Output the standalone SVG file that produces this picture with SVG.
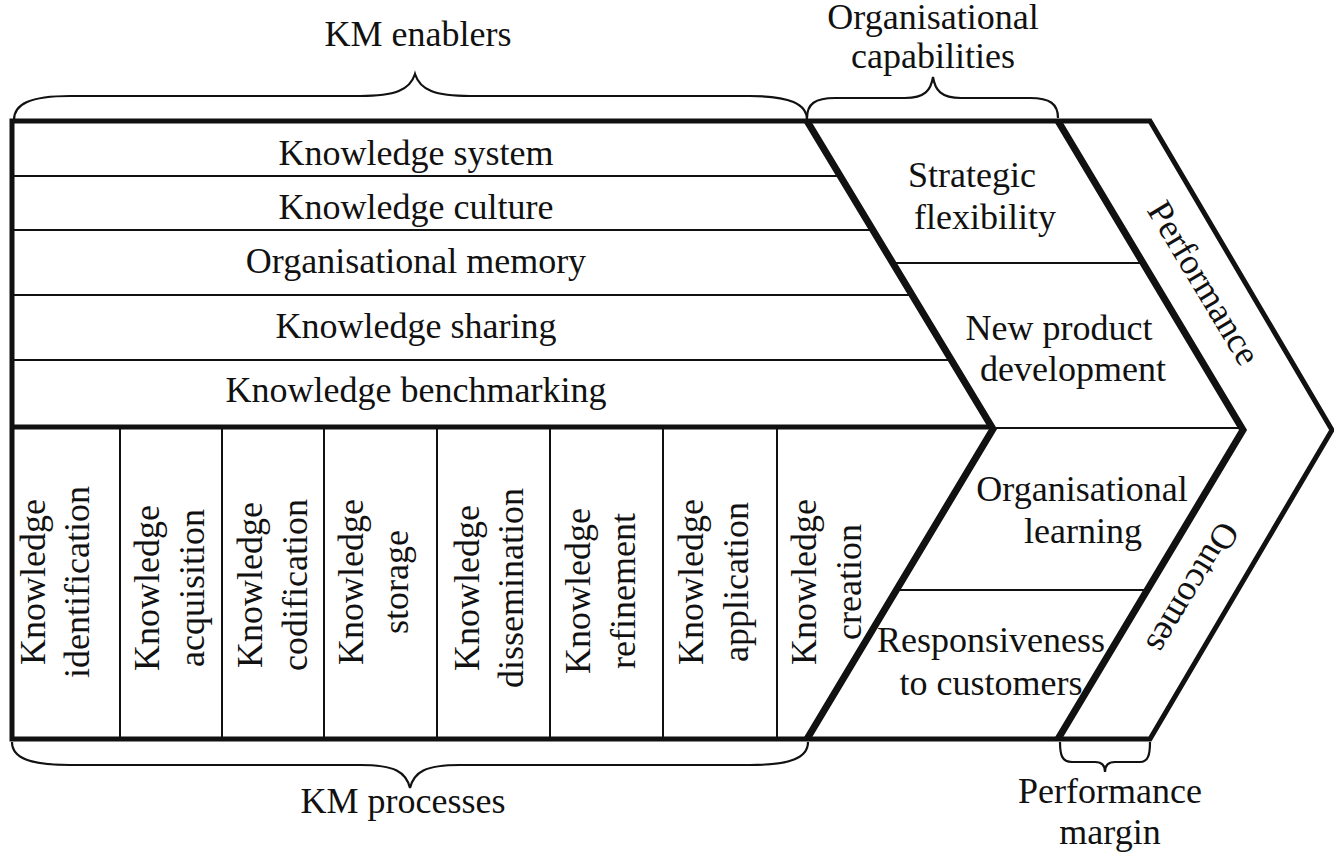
<svg xmlns="http://www.w3.org/2000/svg" width="1334" height="854" viewBox="0 0 1334 854">
<rect width="1334" height="854" fill="#fff"/>

<g id="frame" fill="none" stroke="#111">
  <path fill="none" stroke="#111" stroke-width="5" d="M12,121 H1150 L1332,430 L1150,739 H12 Z"/>
  <path fill="none" stroke="#111" stroke-width="5" d="M12,427 H993"/>
  <polyline fill="none" stroke="#111" stroke-width="7" points="807,121 993,429 807,739"/>
  <polyline fill="none" stroke="#111" stroke-width="7" points="1058,121 1243,430 1058,739"/>
</g>

<g id="enablers">
  <line stroke="#111" stroke-width="2" x1="12" y1="176" x2="840" y2="176"/>
  <line stroke="#111" stroke-width="2" x1="12" y1="230" x2="873" y2="230"/>
  <line stroke="#111" stroke-width="2" x1="12" y1="295" x2="912" y2="295"/>
  <line stroke="#111" stroke-width="2" x1="12" y1="360" x2="951" y2="360"/>
  <g id="knowledge-system"><text font-family="Liberation Serif" font-size="36" fill="#111" text-anchor="middle" x="416" y="165">Knowledge system</text></g>
  <g id="knowledge-culture"><text font-family="Liberation Serif" font-size="36" fill="#111" text-anchor="middle" x="416" y="219">Knowledge culture</text></g>
  <g id="organisational-memory"><text font-family="Liberation Serif" font-size="36" fill="#111" text-anchor="middle" x="416" y="273">Organisational memory</text></g>
  <g id="knowledge-sharing"><text font-family="Liberation Serif" font-size="36" fill="#111" text-anchor="middle" x="416" y="338">Knowledge sharing</text></g>
  <g id="knowledge-benchmarking"><text font-family="Liberation Serif" font-size="36" fill="#111" text-anchor="middle" x="416" y="402">Knowledge benchmarking</text></g>
</g>

<g id="processes">
  <line stroke="#111" stroke-width="2" x1="120" y1="427" x2="120" y2="739"/>
  <line stroke="#111" stroke-width="2" x1="222" y1="427" x2="222" y2="739"/>
  <line stroke="#111" stroke-width="2" x1="324" y1="427" x2="324" y2="739"/>
  <line stroke="#111" stroke-width="2" x1="437" y1="427" x2="437" y2="739"/>
  <line stroke="#111" stroke-width="2" x1="550" y1="427" x2="550" y2="739"/>
  <line stroke="#111" stroke-width="2" x1="663" y1="427" x2="663" y2="739"/>
  <line stroke="#111" stroke-width="2" x1="777" y1="427" x2="777" y2="739"/>
  <g id="p-identification" transform="translate(0,582) rotate(-90)"><text font-family="Liberation Serif" font-size="36" fill="#111" text-anchor="middle" x="0" y="45">Knowledge</text><text font-family="Liberation Serif" font-size="36" fill="#111" text-anchor="middle" x="0" y="89">identification</text></g>
  <g id="p-acquisition" transform="translate(0,588) rotate(-90)"><text font-family="Liberation Serif" font-size="36" fill="#111" text-anchor="middle" x="0" y="159">Knowledge</text><text font-family="Liberation Serif" font-size="36" fill="#111" text-anchor="middle" x="0" y="204">acquisition</text></g>
  <g id="p-codification" transform="translate(0,585) rotate(-90)"><text font-family="Liberation Serif" font-size="36" fill="#111" text-anchor="middle" x="0" y="262">Knowledge</text><text font-family="Liberation Serif" font-size="36" fill="#111" text-anchor="middle" x="0" y="307">codification</text></g>
  <g id="p-storage" transform="translate(0,582) rotate(-90)"><text font-family="Liberation Serif" font-size="36" fill="#111" text-anchor="middle" x="0" y="363">Knowledge</text><text font-family="Liberation Serif" font-size="36" fill="#111" text-anchor="middle" x="0" y="408">storage</text></g>
  <g id="p-dissemination" transform="translate(0,588) rotate(-90)"><text font-family="Liberation Serif" font-size="36" fill="#111" text-anchor="middle" x="0" y="479">Knowledge</text><text font-family="Liberation Serif" font-size="36" fill="#111" text-anchor="middle" x="0" y="523">dissemination</text></g>
  <g id="p-refinement" transform="translate(0,591) rotate(-90)"><text font-family="Liberation Serif" font-size="36" fill="#111" text-anchor="middle" x="0" y="590">Knowledge</text><text font-family="Liberation Serif" font-size="36" fill="#111" text-anchor="middle" x="0" y="635">refinement</text></g>
  <g id="p-application" transform="translate(0,582) rotate(-90)"><text font-family="Liberation Serif" font-size="36" fill="#111" text-anchor="middle" x="0" y="703">Knowledge</text><text font-family="Liberation Serif" font-size="36" fill="#111" text-anchor="middle" x="0" y="748">application</text></g>
  <g id="p-creation" transform="translate(0,582) rotate(-90)"><text font-family="Liberation Serif" font-size="36" fill="#111" text-anchor="middle" x="0" y="816">Knowledge</text><text font-family="Liberation Serif" font-size="36" fill="#111" text-anchor="middle" x="0" y="861">creation</text></g>
</g>

<g id="capabilities">
  <line stroke="#111" stroke-width="2" x1="893" y1="263" x2="1142" y2="263"/>
  <line stroke="#111" stroke-width="2" x1="993" y1="428" x2="1242" y2="428"/>
  <line stroke="#111" stroke-width="2" x1="896" y1="590" x2="1147" y2="590"/>
  <g id="strategic-flexibility"><text font-family="Liberation Serif" font-size="36" fill="#111" text-anchor="middle" x="972" y="187">Strategic</text><text font-family="Liberation Serif" font-size="36" fill="#111" text-anchor="middle" x="985" y="229">flexibility</text></g>
  <g id="new-product-development"><text font-family="Liberation Serif" font-size="36" fill="#111" text-anchor="middle" x="1059" y="340">New product</text><text font-family="Liberation Serif" font-size="36" fill="#111" text-anchor="middle" x="1073" y="381">development</text></g>
  <g id="organisational-learning"><text font-family="Liberation Serif" font-size="36" fill="#111" text-anchor="middle" x="1082" y="501">Organisational</text><text font-family="Liberation Serif" font-size="36" fill="#111" text-anchor="middle" x="1083" y="543">learning</text></g>
  <g id="responsiveness"><text font-family="Liberation Serif" font-size="36" fill="#111" text-anchor="middle" x="991" y="652">Responsiveness</text><text font-family="Liberation Serif" font-size="36" fill="#111" text-anchor="middle" x="991" y="695">to customers</text></g>
</g>

<g id="performance">
  <text font-family="Liberation Serif" font-size="36" fill="#111" text-anchor="middle" transform="translate(1204,283) rotate(59)" x="0" y="12">Performance</text>
  <text font-family="Liberation Serif" font-size="36" fill="#111" text-anchor="middle" transform="translate(1193,588) rotate(121)" x="0" y="12">Outcomes</text>
</g>

<g id="connectors">
  <path fill="none" stroke="#111" stroke-width="2.2" d="M14,120 C14,104 30,96 70,96 L360,96 C395,96 410,90 415,74 C420,90 435,96 470,96 L750,96 C790,96 807,104 807,120"/>
  <path fill="none" stroke="#111" stroke-width="2.2" d="M807,118 C807,104 815,98 835,98 L905,98 C925,98 931,90 933,77 C935,90 941,98 961,98 L1030,98 C1050,98 1058,104 1058,118"/>
  <path fill="none" stroke="#111" stroke-width="2.2" d="M12,742 C12,758 30,765 70,765 L360,765 C395,765 406,772 410,788 C414,772 425,765 460,765 L750,765 C790,765 808,758 808,742"/>
  <path fill="none" stroke="#111" stroke-width="2.2" d="M1060,742 C1060,755 1062,762 1072,762 L1095,762 C1102,762 1105,766 1105,772 C1105,766 1108,762 1115,762 L1140,762 C1148,762 1150,755 1150,742"/>
</g>

<g id="labels">
  <text font-family="Liberation Serif" font-size="36" fill="#111" text-anchor="middle" x="418" y="46">KM enablers</text>
  <text font-family="Liberation Serif" font-size="36" fill="#111" text-anchor="middle" x="933" y="29">Organisational</text>
  <text font-family="Liberation Serif" font-size="36" fill="#111" text-anchor="middle" x="933" y="68">capabilities</text>
  <text font-family="Liberation Serif" font-size="36" fill="#111" text-anchor="middle" x="403" y="813">KM processes</text>
  <text font-family="Liberation Serif" font-size="36" fill="#111" text-anchor="middle" x="1110" y="803">Performance</text>
  <text font-family="Liberation Serif" font-size="36" fill="#111" text-anchor="middle" x="1110" y="844">margin</text>
</g>
</svg>
